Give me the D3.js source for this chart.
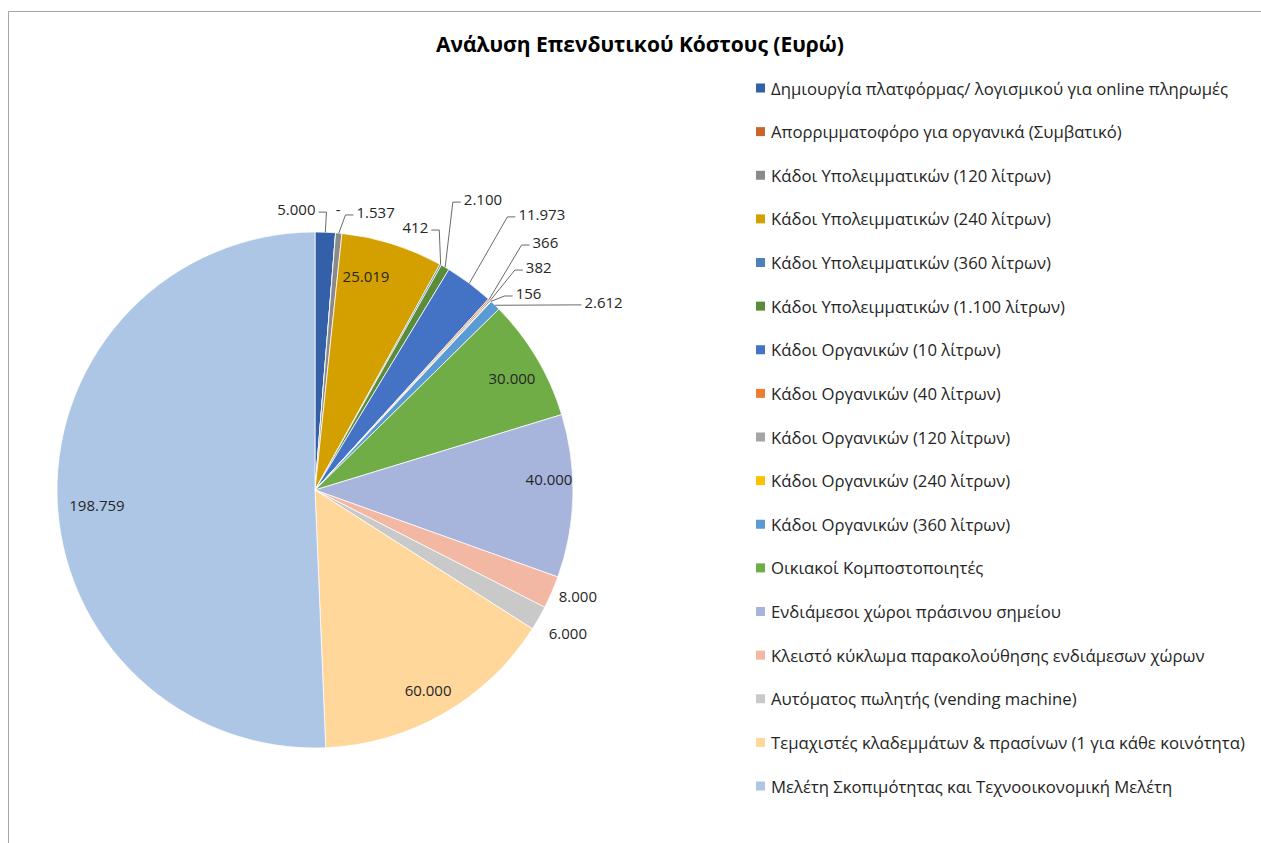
<!DOCTYPE html>
<html>
<head>
<meta charset="utf-8">
<script src="https://cdn.jsdelivr.net/npm/d3@7"></script>
<style>
  body { margin: 0; background: #fff; }
  text { font-family: "Open Sans", "Noto Sans", sans-serif; fill: #262626; }
</style>
</head>
<body>
<svg id="chart" width="1261" height="843"></svg>
<script>
// categories (legend order = slice order, clockwise from 12 o'clock)
const categories = [
    "Δημιουργία πλατφόρμας/ λογισμικού για online πληρωμές",
    "Απορριμματοφόρο για οργανικά (Συμβατικό)",
    "Κάδοι Υπολειμματικών (120 λίτρων)",
    "Κάδοι Υπολειμματικών (240 λίτρων)",
    "Κάδοι Υπολειμματικών (360 λίτρων)",
    "Κάδοι Υπολειμματικών (1.100 λίτρων)",
    "Κάδοι Οργανικών (10 λίτρων)",
    "Κάδοι Οργανικών (40 λίτρων)",
    "Κάδοι Οργανικών (120 λίτρων)",
    "Κάδοι Οργανικών (240 λίτρων)",
    "Κάδοι Οργανικών (360 λίτρων)",
    "Οικιακοί Κομποστοποιητές",
    "Ενδιάμεσοι χώροι πράσινου σημείου",
    "Κλειστό κύκλωμα παρακολούθησης ενδιάμεσων χώρων",
    "Αυτόματος πωλητής (vending machine)",
    "Τεμαχιστές κλαδεμμάτων & πρασίνων (1 για κάθε κοινότητα)",
    "Μελέτη Σκοπιμότητας και Τεχνοοικονομική Μελέτη"
];

const costs = [5000, 0, 1537, 25019, 412, 2100, 11973, 366, 382, 156, 2612,
               30000, 40000, 8000, 6000, 60000, 198759];

const colors = [
    "#3360a8", "#c9652b", "#8a8a8a", "#d4a000", "#4e81b8", "#5a8c3a",
    "#4472c4", "#ed7d31", "#a5a5a5", "#ffc000", "#5b9bd5", "#70ad47",
    "#a7b4dc", "#f3b8a4", "#c9c9c9", "#ffd79b", "#adc6e6"
];

// label placement: [angle in degrees clockwise from top, distance / radius, leader line?]
const labelPlace = [
    [-3.8, 1.091, true], [4.7, 1.093, false], [12.3, 1.103, true], [13.4, 0.853, false],
    [20.9, 1.091, true], [30.0, 1.302, true], [39.4, 1.385, true], [42.9, 1.312, true],
    [45.1, 1.224, true], [47.3, 1.126, true], [56.9, 1.335, true], [60.4, 0.878, false],
    [87.3, 0.908, false], [112.0, 1.099, false], [119.5, 1.126, false], [150.5, 0.890, false],
    [266.1, 0.847, false]
];

const title = "Ανάλυση Επενδυτικού Κόστους (Ευρώ)";

const width = 1261;
const height = 843;
const cx = 315, cy = 490, radius = 258;

const svg = d3.select("#chart");

// frame of the chart area
svg.append("path")
    .attr("d", `M8.5,${height} V11.5 H${width}`)
    .attr("fill", "none")
    .attr("stroke", "#a6a6a6")
    .attr("stroke-width", 1);

svg.append("text")
    .attr("x", 640)
    .attr("y", 52)
    .attr("text-anchor", "middle")
    .attr("font-size", 21)
    .attr("font-weight", "bold")
    .style("fill", "#000")
    .text(title);

const greek = d3.formatLocale({ decimal: ",", thousands: ".", grouping: [3], currency: ["", " €"] });
const fmt = v => v === 0 ? "-" : greek.format(",")(v);

const data = categories.map((c, i) => ({ name: c, value: costs[i], color: colors[i], place: labelPlace[i] }));

const pie = d3.pie().sort(null).value(d => d.value);
const arc = d3.arc().innerRadius(0).outerRadius(radius);
const arcs = pie(data);

const g = svg.append("g").attr("transform", `translate(${cx},${cy})`);

g.selectAll("path.slice")
    .data(arcs)
    .join("path")
    .attr("class", "slice")
    .attr("d", arc)
    .attr("fill", d => d.data.color)
    .attr("stroke", "#fff")
    .attr("stroke-width", 0.75);

const polar = (deg, r) => {
    const a = deg * Math.PI / 180;
    return [r * Math.sin(a), -r * Math.cos(a)];
};

// data labels
const labels = g.selectAll("text.lbl")
    .data(arcs)
    .join("text")
    .attr("class", "lbl")
    .attr("text-anchor", "middle")
    .attr("dominant-baseline", "central")
    .attr("font-size", 15)
    .attr("x", d => polar(d.data.place[0], d.data.place[1] * radius)[0])
    .attr("y", d => polar(d.data.place[0], d.data.place[1] * radius)[1])
    .text(d => fmt(d.data.value));

// leader lines: short horizontal stub next to the label, then to the slice edge
labels.each(function(d) {
    if (!d.data.place[2]) return;
    const bb = this.getBBox();
    const midDeg = (d.startAngle + d.endAngle) / 2 * 180 / Math.PI;
    const [ex, ey] = polar(midDeg, radius);
    const ly = bb.y + bb.height / 2 + 3;
    const left = ex < bb.x;
    const sx = left ? bb.x - 3 : bb.x + bb.width + 3;
    const kx = left ? sx - 8 : sx + 8;
    g.append("path")
        .attr("d", `M${sx},${ly} H${kx} L${ex},${ey}`)
        .attr("fill", "none")
        .attr("stroke", "#595959")
        .attr("stroke-width", 0.9);
});

// legend
const legendY = d3.scalePoint()
    .domain(categories)
    .range([88, 786]);

const legend = svg.append("g")
    .selectAll("g")
    .data(data)
    .join("g")
    .attr("transform", d => `translate(756,${legendY(d.name)})`);

legend.append("rect")
    .attr("x", 0)
    .attr("y", -4.5)
    .attr("width", 9)
    .attr("height", 9)
    .attr("fill", d => d.color);

legend.append("text")
    .attr("x", 15)
    .attr("y", 0)
    .attr("dominant-baseline", "central")
    .attr("font-size", 16.7)
    .text(d => d.name);
</script>
</body>
</html>
